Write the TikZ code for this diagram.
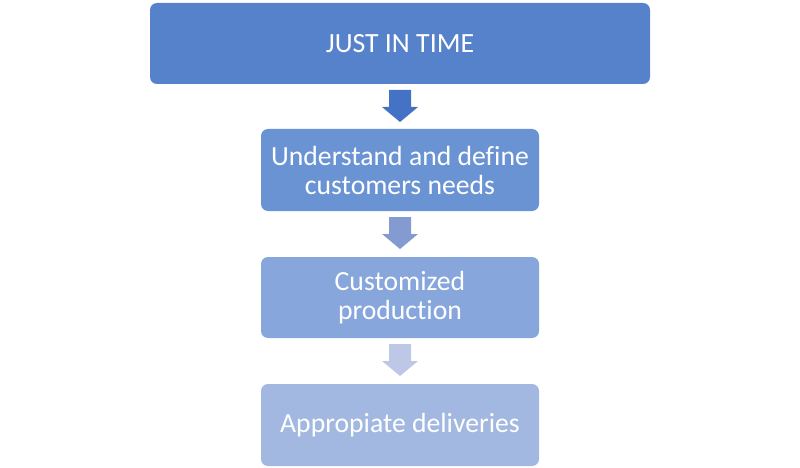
\documentclass[tikz,border=0pt]{standalone}
\usepackage{fontspec}
\setmainfont{Carlito}[Ligatures={NoCommon}]
\definecolor{bA}{RGB}{86,130,203}
\definecolor{bB}{RGB}{106,147,211}
\definecolor{bC}{RGB}{135,166,220}
\definecolor{bD}{RGB}{162,184,225}
\definecolor{aA}{RGB}{68,114,196}
\definecolor{aB}{RGB}{132,155,210}
\definecolor{aC}{RGB}{188,200,230}
\begin{document}
\begin{tikzpicture}[x=1pt,y=-1pt,
  boxst/.style={rounded corners=7pt, text=white, align=center, inner sep=0pt,
    font=\fontsize{27.7}{29}\selectfont}]
\useasboundingbox (0,0) rectangle (800,468);
\fill[bA, rounded corners=7pt] (150,3) rectangle (650,84);
\node[boxst] (b1) at (400,43.5) {\fontsize{27.8}{30}\selectfont JUST IN TIME};
\fill[bB, rounded corners=7pt] (261,129) rectangle (539,211);
\node[boxst] (b2) at (400,170) {Understand and define\\customers needs};
\fill[bC, rounded corners=7pt] (261,257) rectangle (539,338);
\node[boxst] (b3) at (400,297.5) {Customized\\production};
\fill[bD, rounded corners=7pt] (261,384) rectangle (539,466);
\node[boxst] (b4) at (400,425) {Appropiate deliveries};
\foreach \t/\c in {90/aA,217/aB,344/aC}{
  \fill[\c] (389,\t) -- (411,\t) -- (411,\t+17) -- (418,\t+17) -- (400,\t+32) -- (382,\t+17) -- (389,\t+17) -- cycle;
}
\end{tikzpicture}
\end{document}
